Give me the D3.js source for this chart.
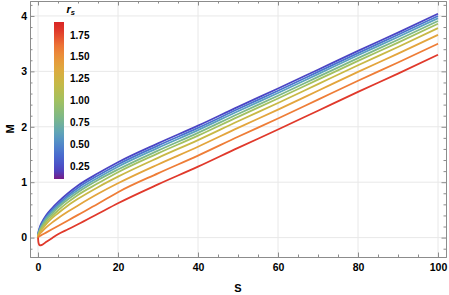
<!DOCTYPE html>
<html>
<head>
<meta charset="utf-8">
<script src="https://cdn.jsdelivr.net/npm/d3@7/dist/d3.min.js"></script>
<style>
  body { margin: 0; background: #fff; }
  text { font-family: "Liberation Sans", Arial, sans-serif; font-weight: bold; fill: #000; }
</style>
</head>
<body>
<svg id="chart"></svg>
<script>
// entropy values where the curves were read
const S = [0, 0.1, 0.25, 0.5, 1, 2, 3.5, 5, 7.5, 10, 15, 20, 30, 40, 50, 60, 70, 80, 90, 100]

const rs = [0.2, 0.4, 0.6, 0.8, 1.0, 1.2, 1.4, 1.6, 1.8]

const m02 = [0, .09, .14, .20, .28, .40, .53, .64, .80, .94, 1.16, 1.36, 1.70, 2.02, 2.36, 2.69, 3.03, 3.37, 3.70, 4.04]
const m04 = [0, .08, .12, .18, .26, .37, .50, .60, .76, .90, 1.12, 1.32, 1.66, 1.98, 2.32, 2.65, 2.99, 3.33, 3.66, 4.00]
const m06 = [0, .07, .11, .16, .23, .35, .47, .57, .73, .86, 1.08, 1.28, 1.62, 1.94, 2.28, 2.61, 2.95, 3.29, 3.62, 3.96]
const m08 = [0, .06, .09, .14, .21, .32, .43, .54, .69, .82, 1.04, 1.23, 1.57, 1.89, 2.23, 2.56, 2.90, 3.24, 3.57, 3.91]
const m10 = [0, .05, .08, .12, .18, .28, .39, .49, .64, .77, .98, 1.18, 1.52, 1.84, 2.18, 2.51, 2.85, 3.19, 3.52, 3.86]
const m12 = [0, .05, .07, .10, .15, .24, .35, .44, .58, .70, .91, 1.10, 1.44, 1.76, 2.10, 2.43, 2.77, 3.11, 3.44, 3.78]
const m14 = [0, .03, .05, .07, .11, .18, .27, .35, .47, .58, .79, .98, 1.32, 1.64, 1.98, 2.31, 2.65, 2.99, 3.32, 3.66]
const m16 = [0, .01, .02, .03, .05, .09, .15, .21, .31, .41, .61, .82, 1.16, 1.48, 1.82, 2.15, 2.49, 2.83, 3.16, 3.50]
const m18 = [0, -.08, -.12, -.14, -.13, -.08, -.01, .06, .15, .24, .43, .62, .96, 1.28, 1.62, 1.95, 2.29, 2.63, 2.96, 3.30]
const curves = [m02, m04, m06, m08, m10, m12, m14, m16, m18]

const xTicks = [0, 20, 40, 60, 80, 100]
const yTicks = [0, 1, 2, 3, 4]
const legendTicks = [0.25, 0.5, 0.75, 1.0, 1.25, 1.5, 1.75]
const legendRange = [0.1, 1.9]

const width = 449
const height = 295
const frame = {left: 30, right: 446, top: 1, bottom: 257}

const xScale = d3.scaleLinear().domain([-2, 102]).range([frame.left, frame.right])
const yScale = d3.scaleLinear().domain([-0.35, 4.27]).range([frame.bottom, frame.top])

// rough copy of the Mathematica "Rainbow" gradient
const rainbow = d3.scaleLinear()
    .domain([0, 0.056, 0.167, 0.278, 0.389, 0.5, 0.611, 0.722, 0.833, 0.944, 1])
    .range(["#781c86", "#4b45c4", "#4a72d0", "#5aa0c0", "#7cb888", "#a2c160",
            "#c8b945", "#e3a53d", "#ee7d37", "#e0392b", "#d92525"])
const colour = r => rainbow((r - legendRange[0]) / (legendRange[1] - legendRange[0]))

const svg = d3.select("#chart")
    .attr("width", width)
    .attr("height", height)

// grid
const grid = svg.append("g").attr("stroke", "#e8e8e8").attr("stroke-width", 1)
grid.selectAll(".gx").data(xTicks).join("line")
    .attr("x1", d => xScale(d)).attr("x2", d => xScale(d))
    .attr("y1", frame.top).attr("y2", frame.bottom)
grid.selectAll(".gy").data(yTicks).join("line")
    .attr("x1", frame.left).attr("x2", frame.right)
    .attr("y1", d => yScale(d)).attr("y2", d => yScale(d))

// curves
const line = d3.line()
    .x((d, i) => xScale(S[i]))
    .y(d => yScale(d))
    .curve(d3.curveMonotoneX)

svg.append("g")
    .attr("fill", "none")
    .attr("stroke-width", 1.8)
    .selectAll("path")
    .data(curves)
    .join("path")
    .attr("stroke", (d, i) => colour(rs[i]))
    .attr("d", line)

// frame with inward ticks
const axisStyle = g => {
    g.select(".domain").attr("stroke", "#8c8c8c")
    g.selectAll(".tick line").attr("stroke", "#8c8c8c")
    g.selectAll("text").attr("font-size", 10.5).attr("font-family", null).attr("fill", "#000")
}
const minorX = d3.range(0, 101, 5).filter(d => d % 20 !== 0)
const minorY = d3.range(-0.2, 4.21, 0.2).filter(d => Math.abs(d - Math.round(d)) > 0.01)

svg.append("g")
    .attr("transform", `translate(0,${frame.bottom})`)
    .call(d3.axisBottom(xScale).tickValues(minorX).tickSize(-2.5).tickFormat("").tickSizeOuter(0))
    .call(axisStyle)
svg.append("g")
    .attr("transform", `translate(0,${frame.bottom})`)
    .call(d3.axisBottom(xScale).tickValues(xTicks).tickSize(-4.5).tickPadding(7).tickSizeOuter(0))
    .call(axisStyle)
svg.append("g")
    .attr("transform", `translate(0,${frame.top})`)
    .call(d3.axisTop(xScale).tickValues(minorX).tickSize(-2.5).tickFormat("").tickSizeOuter(0))
    .call(axisStyle)
svg.append("g")
    .attr("transform", `translate(0,${frame.top})`)
    .call(d3.axisTop(xScale).tickValues(xTicks).tickSize(-4.5).tickFormat("").tickSizeOuter(0))
    .call(axisStyle)

svg.append("g")
    .attr("transform", `translate(${frame.left},0)`)
    .call(d3.axisLeft(yScale).tickValues(minorY).tickSize(-2.5).tickFormat("").tickSizeOuter(0))
    .call(axisStyle)
svg.append("g")
    .attr("transform", `translate(${frame.left},0)`)
    .call(d3.axisLeft(yScale).tickValues(yTicks).tickSize(-4.5).tickPadding(3).tickFormat(d3.format("d")).tickSizeOuter(0))
    .call(axisStyle)
svg.append("g")
    .attr("transform", `translate(${frame.right},0)`)
    .call(d3.axisRight(yScale).tickValues(minorY).tickSize(-2.5).tickFormat("").tickSizeOuter(0))
    .call(axisStyle)
svg.append("g")
    .attr("transform", `translate(${frame.right},0)`)
    .call(d3.axisRight(yScale).tickValues(yTicks).tickSize(-4.5).tickFormat("").tickSizeOuter(0))
    .call(axisStyle)

// axis titles
svg.append("text")
    .attr("x", (frame.left + frame.right) / 2)
    .attr("y", 291.5)
    .attr("text-anchor", "middle")
    .attr("font-size", 11)
    .text("S")

svg.append("text")
    .attr("transform", `translate(14,${(frame.top + frame.bottom) / 2}) rotate(-90)`)
    .attr("text-anchor", "middle")
    .attr("font-size", 11)
    .text("M")

// colour bar legend
const legendScale = d3.scaleLinear().domain(legendRange).range([179, 22])
const defs = svg.append("defs")
const grad = defs.append("linearGradient")
    .attr("id", "rsGradient")
    .attr("x1", 0).attr("y1", 1).attr("x2", 0).attr("y2", 0)
grad.selectAll("stop")
    .data(d3.range(0, 1.001, 0.05))
    .join("stop")
    .attr("offset", d => d)
    .attr("stop-color", d => rainbow(d))

svg.append("rect")
    .attr("x", 54)
    .attr("y", legendScale(legendRange[1]))
    .attr("width", 10)
    .attr("height", legendScale(legendRange[0]) - legendScale(legendRange[1]))
    .attr("fill", "url(#rsGradient)")

svg.append("g")
    .selectAll("text")
    .data(legendTicks)
    .join("text")
    .attr("x", 70)
    .attr("y", d => legendScale(d))
    .attr("dy", "0.36em")
    .attr("font-size", 10)
    .text(d => d3.format(".2f")(d))

const title = svg.append("text")
    .attr("x", 66.5)
    .attr("y", 13)
    .attr("font-size", 11)
    .attr("font-style", "italic")
    .text("r")
title.append("tspan")
    .attr("font-size", 7.5)
    .attr("dy", 2)
    .text("s")
</script>
</body>
</html>
